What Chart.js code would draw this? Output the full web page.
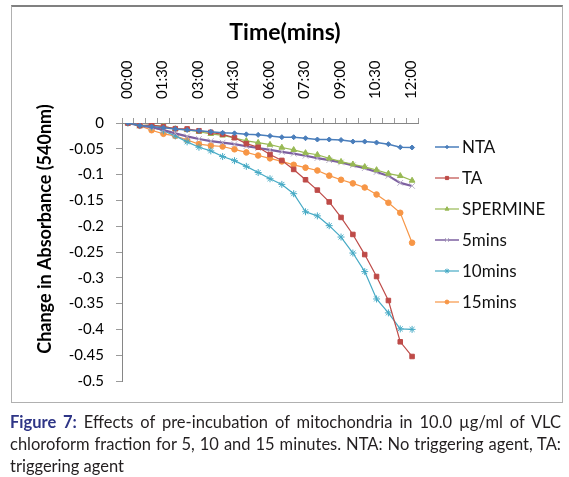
<!DOCTYPE html>
<html>
<head>
<meta charset="utf-8">
<script src="https://cdn.jsdelivr.net/npm/chart.js@4"></script>
<style>
  html, body { margin: 0; padding: 0; background: #fff; }
  body { width: 569px; height: 477px; position: relative; overflow: hidden; font-family: Lato, "Noto Sans", sans-serif; }
  #wrap { position: absolute; left: 0; top: 0; width: 569px; height: 402px; }
  #frame { position: absolute; left: 11px; top: 5px; width: 550px; height: 395px;
           border: 1px solid #b0b0b0; border-top: 2px solid #808080; pointer-events: none; }
  #caption { position: absolute; left: 10px; top: 411px; width: 551px; font-size: 16.5px; line-height: 22px; color: #231f20; }
  #caption .ln { text-align: justify; text-align-last: justify; white-space: nowrap; }
  #caption .ln.last { text-align-last: left; }
  #caption b { color: #2e3586; }
</style>
</head>
<body>
<div id="wrap"><canvas id="c"></canvas></div>
<div id="frame"></div>
<div id="caption">
  <div class="ln"><b>Figure 7:</b> Effects of pre-incubation of mitochondria in 10.0 µg/ml of VLC</div>
  <div class="ln">chloroform fraction for 5, 10 and 15 minutes. NTA: No triggering agent, TA:</div>
  <div class="ln last">triggering agent</div>
</div>
<script>
const categories = ["00:00","00:30","01:00","01:30","02:00","02:30","03:00","03:30","04:00","04:30","05:00","05:30","06:00","06:30","07:00","07:30","08:00","08:30","09:00","09:30","10:00","10:30","11:00","11:30","12:00"];
const seriesNames = ["NTA","TA","SPERMINE","5mins","10mins","15mins"];
const NTA = [0,-0.005,-0.007,-0.009,-0.0115,-0.0135,-0.015,-0.017,-0.019,-0.02,-0.022,-0.023,-0.025,-0.0275,-0.0275,-0.0295,-0.032,-0.032,-0.033,-0.036,-0.036,-0.038,-0.041,-0.047,-0.0475];
const TA = [0,-0.005,-0.004,-0.007,-0.011,-0.0115,-0.015,-0.018,-0.022,-0.0285,-0.04,-0.047,-0.061,-0.0725,-0.09,-0.11,-0.13,-0.153,-0.183,-0.216,-0.255,-0.2975,-0.344,-0.424,-0.4525];
const SPERMINE = [0,-0.005,-0.004,-0.0065,-0.0115,-0.0135,-0.017,-0.021,-0.024,-0.029,-0.0345,-0.038,-0.042,-0.0475,-0.052,-0.058,-0.0615,-0.0685,-0.075,-0.08,-0.085,-0.091,-0.098,-0.1025,-0.1115];
const MIN5 = [0,-0.005,-0.008,-0.0135,-0.02,-0.026,-0.031,-0.035,-0.038,-0.041,-0.045,-0.0485,-0.052,-0.056,-0.0595,-0.0635,-0.068,-0.072,-0.0765,-0.082,-0.0875,-0.095,-0.1025,-0.116,-0.122];
const MIN10 = [0,-0.005,-0.008,-0.015,-0.025,-0.0365,-0.047,-0.054,-0.065,-0.073,-0.084,-0.096,-0.108,-0.119,-0.137,-0.172,-0.18,-0.199,-0.221,-0.252,-0.288,-0.341,-0.368,-0.399,-0.40];
const MIN15 = [0,-0.005,-0.014,-0.021,-0.025,-0.033,-0.041,-0.044,-0.0455,-0.051,-0.057,-0.063,-0.0685,-0.0745,-0.081,-0.0865,-0.092,-0.102,-0.11,-0.117,-0.125,-0.1385,-0.1545,-0.174,-0.232];
const xTitle = "Time(mins)";
const yTitle = "Change in Absorbance (540nm)";
const yMin = -0.5, yMax = 0, yStep = 0.05;

const values = [NTA, TA, SPERMINE, MIN5, MIN10, MIN15];
const styles = [
  {c:'#4a7ebb', ps:'rectRot', r:2.5, w:1.5, pb:'#4a7ebb'},
  {c:'#be4b48', ps:'rect', r:3.2, w:1.2, pb:'#be4b48'},
  {c:'#98b954', ps:'triangle', r:3.3, w:1.2, pb:'#98b954'},
  {c:'#7d60a0', ps:'crossRot', r:4, w:2.2, pb:'#b9b0c8'},
  {c:'#46aac5', ps:'star', r:3.5, w:1.2, pb:'#46aac5'},
  {c:'#f79646', ps:'circle', r:2.8, w:1.2, pb:'#f79646'}
];

const datasets = seriesNames.map((n, i) => ({
  label: n,
  data: values[i],
  borderColor: styles[i].c,
  backgroundColor: styles[i].c,
  borderWidth: styles[i].w,
  pointStyle: styles[i].ps,
  pointRadius: styles[i].r,
  pointBorderColor: styles[i].pb,
  pointBackgroundColor: styles[i].c,
  pointBorderWidth: 1,
  tension: 0
}));

const FONT = 'Lato, "Noto Sans", sans-serif';

const legendPlugin = {
  id: 'customLegend',
  afterDraw(chart) {
    const ctx = chart.ctx;
    ctx.save();
    chart.data.datasets.forEach((ds, i) => {
      const y = 147 + i * 31;
      ctx.strokeStyle = ds.borderColor;
      ctx.lineWidth = Math.min(ds.borderWidth, 1.5);
      ctx.beginPath(); ctx.moveTo(435, y); ctx.lineTo(459, y); ctx.stroke();
      ctx.fillStyle = ds.pointBackgroundColor;
      ctx.strokeStyle = ds.pointBorderColor;
      ctx.lineWidth = 1;
      Chart.helpers.drawPoint(ctx, {pointStyle: ds.pointStyle, radius: ds.pointRadius * 0.7, borderWidth: 1, rotation: 0}, 447, y);
      ctx.fillStyle = '#111';
      ctx.font = '17px ' + FONT;
      ctx.textAlign = 'left'; ctx.textBaseline = 'middle';
      ctx.fillText(ds.label, 462, y + 1);
    });
    // x-axis title
    ctx.font = 'bold 23px ' + FONT;
    ctx.fillStyle = '#000';
    ctx.textAlign = 'center'; ctx.textBaseline = 'middle';
    ctx.fillText(xTitle, 285, 33);
    // y-axis title
    ctx.translate(45, 229);
    ctx.rotate(-Math.PI / 2);
    ctx.font = 'bold 18px ' + FONT;
    ctx.fillText(yTitle, 0, 0);
    ctx.restore();
  }
};

new Chart(document.getElementById('c'), {
  type: 'line',
  data: { labels: categories, datasets },
  options: {
    responsive: true, maintainAspectRatio: false, animation: false, devicePixelRatio: 1,
    layout: { padding: { left: 0, right: 151, top: 0, bottom: 19 } },
    plugins: { legend: { display: false }, tooltip: { enabled: false } },
    scales: {
      x: {
        position: 'top', offset: true,
        afterFit(s) { s.height = 123; },
        grid: { display: true, drawOnChartArea: false, drawTicks: true, tickLength: 5, color: '#9a9a9a', offset: true },
        border: { display: true, color: '#868686', width: 1 },
        ticks: { autoSkip: false, minRotation: 90, maxRotation: 90, padding: 19, labelOffset: 17, color: '#000',
                 font: { family: FONT, size: 15 },
                 callback: (v, i) => (i % 3 === 0 ? categories[i] : '') },
        title: { display: false }
      },
      y: {
        min: yMin, max: yMax,
        afterFit(s) { s.width = 122; },
        grid: { display: true, drawOnChartArea: false, drawTicks: true, tickLength: 6, color: '#9a9a9a' },
        border: { display: true, color: '#868686', width: 1 },
        ticks: { stepSize: yStep, padding: 12, color: '#000',
                 font: { family: FONT, size: 15 },
                 callback: v => String(Number(v.toFixed(2))) }
      }
    }
  },
  plugins: [legendPlugin]
});
</script>
</body>
</html>
